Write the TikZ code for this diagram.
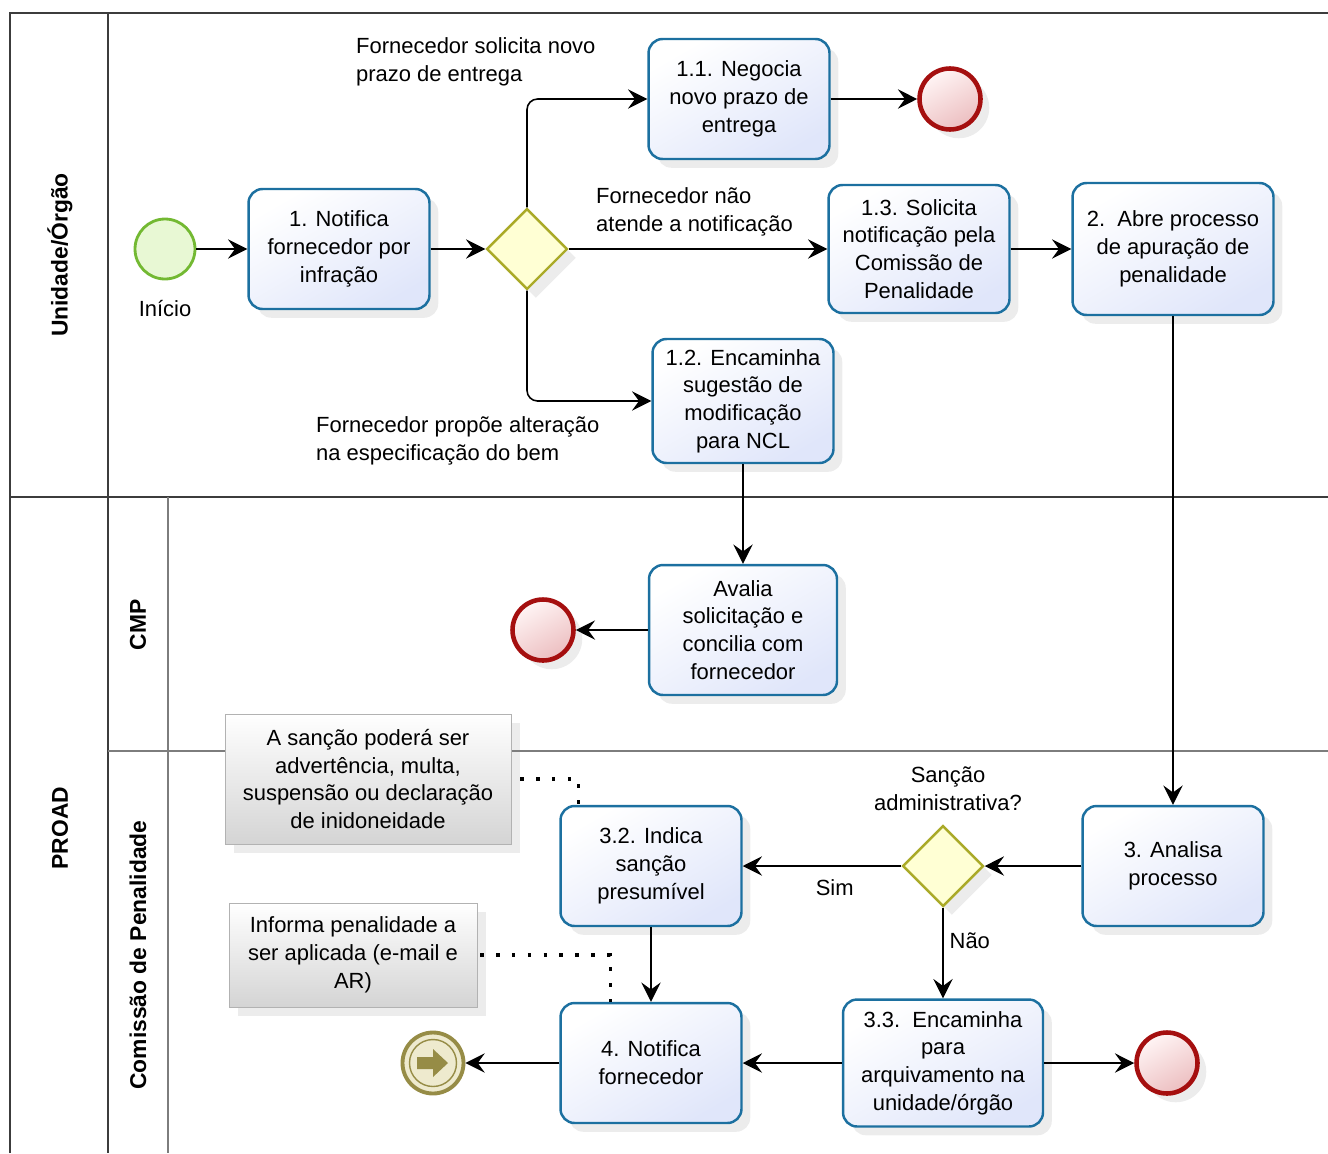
\documentclass[tikz,border=0pt]{standalone}
\usepackage{fontspec}
\setmainfont{Liberation Sans}
\usepackage{tikz}
\usetikzlibrary{shapes.geometric,arrows.meta,shadows,positioning}

\definecolor{taskline}{RGB}{28,112,160}
\definecolor{taskfill}{RGB}{224,230,250}
\definecolor{gwline}{RGB}{170,170,40}
\definecolor{gwfill}{RGB}{255,255,212}
\definecolor{startline}{RGB}{115,185,50}
\definecolor{startfill}{RGB}{232,248,212}
\definecolor{endline}{RGB}{165,15,15}
\definecolor{endfill}{RGB}{236,190,192}
\definecolor{msgline}{RGB}{150,140,70}
\definecolor{msgfill}{RGB}{238,234,206}
\definecolor{poolline}{RGB}{60,60,60}
\definecolor{laneline}{RGB}{125,125,125}
\definecolor{notefill}{RGB}{212,212,212}

\begin{document}
\begin{tikzpicture}[
x=0.02cm,y=-0.02cm,
task/.style={
  rectangle,
  rounded corners=8pt,
  draw=taskline,
  line width=1.4pt,
  top color=white,
  bottom color=taskfill,
  shading angle=30,
  minimum width=3.62cm,
  minimum height=2.4cm,
  align=center,
  inner sep=2pt,
  font=\fontsize{12.5}{15.8}\selectfont,
  drop shadow={opacity=0.15,shadow xshift=5pt,shadow yshift=-5pt}
  },
gateway/.style={
  diamond,
  draw=gwline,
  line width=1.4pt,
  fill=gwfill,
  minimum width=1.62cm,
  minimum height=1.62cm,
  inner sep=0pt,
  drop shadow={opacity=0.15,shadow xshift=5pt,shadow yshift=-5pt}
  },
startev/.style={
  circle,
  draw=startline,
  line width=1.6pt,
  fill=startfill,
  minimum size=1.2cm,
  inner sep=0pt
  },
endev/.style={
  circle,
  draw=endline,
  line width=2.6pt,
  top color=red!4,
  bottom color=endfill,
  shading angle=30,
  minimum size=1.22cm,
  inner sep=0pt,
  drop shadow={opacity=0.15,shadow xshift=5pt,shadow yshift=-5pt}
  },
msgev/.style={
  circle,
  draw=msgline,
  line width=2.2pt,
  fill=msgfill,
  minimum size=1.22cm,
  inner sep=0pt
  },
note/.style={
  rectangle,
  draw=gray!60,
  line width=0.4pt,
  top color=white,
  bottom color=notefill,
  align=center,
  inner sep=2pt,
  font=\fontsize{12.5}{15.8}\selectfont,
  drop shadow={opacity=0.15,shadow xshift=5pt,shadow yshift=-5pt}
  },
lbl/.style={
  align=left,
  font=\fontsize{12.5}{15.8}\selectfont
  },
lanelbl/.style={
  rotate=90,
  font=\bfseries\fontsize{13}{15}\selectfont
  },
flow/.style={->,line width=0.9pt},
assoc/.style={line width=2pt,dash pattern=on 2pt off 7pt},
>={Stealth[length=11pt,width=11pt,inset=4pt]}
]
\useasboundingbox (0,0) rectangle (1328,1153);

% pools and lanes
\draw[poolline,line width=1pt] (10,1153) -- (10,13) -- (1328,13);
\draw[poolline,line width=1pt] (108,13) -- (108,1153);
\draw[poolline,line width=1pt] (10,497) -- (1328,497);
\draw[laneline,line width=1pt] (168,497) -- (168,1153);
\draw[laneline,line width=1pt] (108,751) -- (1328,751);
\node[lanelbl] (lUnidade) at (60,255) {Unidade/Órgão};
\node[lanelbl] (lProad) at (60,828) {PROAD};
\node[lanelbl] (lCmp) at (138,625) {CMP};
\node[lanelbl] (lComissao) at (138,955) {Comissão de Penalidade};

% Unidade/Orgao
\node[startev] (inicio) at (165,249) {};
\node[lbl,below=0.28cm of inicio] (lInicio) {Início};
\node[task] (t1) at (339,249) {1. Notifica\\fornecedor por\\infração};
\node[gateway] (gw1) at (527,249) {};
\node[task] (t11) at (739,99) {1.1. Negocia\\novo prazo de\\entrega};
\node[endev] (fim1) at (950,99) {};
\node[task,minimum height=2.56cm] (t13) at (919,249) {1.3. Solicita\\notificação pela\\Comissão de\\Penalidade};
\node[task,minimum width=4.02cm,minimum height=2.64cm] (t2) at (1173,249) {2.\ \ Abre processo\\de apuração de\\penalidade};
\node[task,minimum height=2.48cm] (t12) at (743,401) {1.2. Encaminha\\sugestão de\\modificação\\para NCL};
\node[lbl,anchor=west] (lNovoPrazo) at (350,62) {Fornecedor solicita novo\\prazo de entrega};
\node[lbl,anchor=west] (lNaoAtende) at (590,212) {Fornecedor não\\atende a notificação};
\node[lbl,anchor=west] (lAlteracao) at (310,441) {Fornecedor propõe alteração\\na especificação do bem};

% CMP
\node[task,minimum width=3.76cm,minimum height=2.6cm] (avalia) at (743,630) {Avalia\\solicitação e\\concilia com\\fornecedor};
\node[endev] (fimCmp) at (543,630) {};

% Comissao de Penalidade
\node[task] (t3) at (1173,866) {3. Analisa\\processo};
\node[gateway] (gw2) at (943,866) {};
\node[lbl,align=center] (lSancao) at (948,789) {Sanção\\administrativa?};
\node[task] (t32) at (651,866) {3.2. Indica\\sanção\\presumível};
\node[task,minimum width=4cm,minimum height=2.54cm] (t33) at (943,1063) {3.3.\ \ Encaminha\\para\\arquivamento na\\unidade/órgão};
\node[endev] (fim33) at (1167,1063) {};
\node[task] (t4) at (651,1063) {4. Notifica\\fornecedor};
\node[msgev] (fim4) at (433,1063) {};
\draw[msgline,line width=0.8pt] (fim4.center) circle (0.47cm);
\fill[msgline,shift={(fim4.center)}] (-16,-6) -- (0,-6) -- (0,-14) -- (15,0) -- (0,14) -- (0,6) -- (-16,6) -- cycle;
\node[note,minimum width=5.72cm,minimum height=2.6cm] (nota1) at (368,779) {A sanção poderá ser\\advertência, multa,\\suspensão ou declaração\\de inidoneidade};
\node[note,minimum width=4.96cm,minimum height=2.08cm] (nota2) at (353,955) {Informa penalidade a\\ser aplicada (e-mail e\\AR)};

% flows
\draw[flow] (inicio) -- (t1);
\draw[flow] (t1) -- (gw1);
\draw[flow,rounded corners=6pt] (gw1.north) |- (t11.west);
\draw[flow,rounded corners=6pt] (gw1.south) |- (t12.west);
\draw[flow] (gw1) -- (t13);
\draw[flow] (t11) -- (fim1);
\draw[flow] (t13) -- (t2);
\draw[flow] (t2) -- (t3);
\draw[flow] (t12) -- (avalia);
\draw[flow] (avalia) -- (fimCmp);
\draw[flow] (t3) -- (gw2);
\draw[flow] (gw2) -- node[lbl,below=4pt,pos=0.42] {Sim} (t32);
\draw[flow] (gw2) -- node[lbl,right,pos=0.36] {Não} (t33);
\draw[flow] (t32) -- (t4);
\draw[flow] (t33) -- (t4);
\draw[flow] (t33) -- (fim33);
\draw[flow] (t4) -- (fim4);
\draw[assoc] ([xshift=0.18cm]nota1.east) -| ([xshift=0.38cm]t32.north west);
\draw[assoc] ([xshift=0.06cm]nota2.east) -| ([xshift=1.02cm]t4.north west);
\end{tikzpicture}
\end{document}
